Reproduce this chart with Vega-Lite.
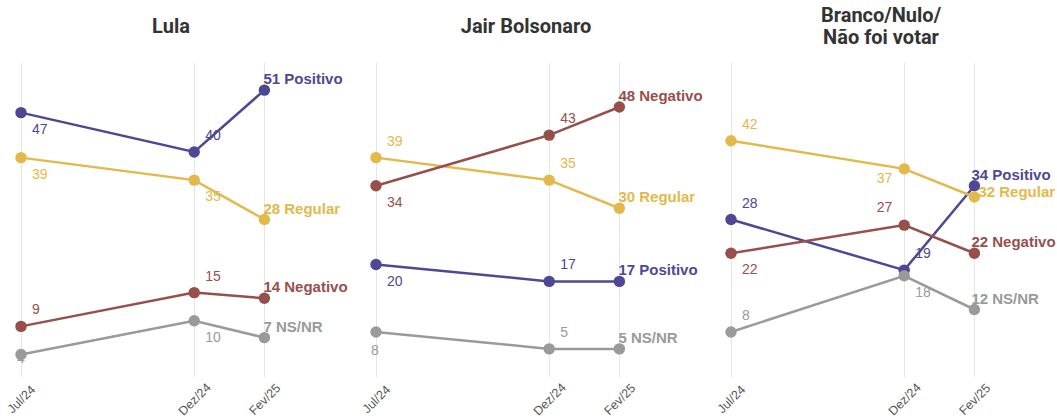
{
  "$schema": "https://vega.github.io/schema/vega-lite/v6.json",
  "background": "white",
  "padding": {"left": 4, "top": 6, "right": 0, "bottom": 0},
  "datasets": {"pesquisa": [
    {"painel": "Lula", "serie": "Positivo", "data": "2024-07-01", "valor": 47, "pos": "S"},
    {"painel": "Lula", "serie": "Positivo", "data": "2024-12-01", "valor": 40, "pos": "N"},
    {"painel": "Lula", "serie": "Positivo", "data": "2025-02-01", "valor": 51, "pos": "E"},
    {"painel": "Lula", "serie": "Regular", "data": "2024-07-01", "valor": 39, "pos": "S"},
    {"painel": "Lula", "serie": "Regular", "data": "2024-12-01", "valor": 35, "pos": "S"},
    {"painel": "Lula", "serie": "Regular", "data": "2025-02-01", "valor": 28, "pos": "E"},
    {"painel": "Lula", "serie": "Negativo", "data": "2024-07-01", "valor": 9, "pos": "N"},
    {"painel": "Lula", "serie": "Negativo", "data": "2024-12-01", "valor": 15, "pos": "N"},
    {"painel": "Lula", "serie": "Negativo", "data": "2025-02-01", "valor": 14, "pos": "E"},
    {"painel": "Lula", "serie": "NS/NR", "data": "2024-07-01", "valor": 4, "pos": "C"},
    {"painel": "Lula", "serie": "NS/NR", "data": "2024-12-01", "valor": 10, "pos": "S"},
    {"painel": "Lula", "serie": "NS/NR", "data": "2025-02-01", "valor": 7, "pos": "E"},
    {"painel": "Jair Bolsonaro", "serie": "Positivo", "data": "2024-07-01", "valor": 20, "pos": "S"},
    {"painel": "Jair Bolsonaro", "serie": "Positivo", "data": "2024-12-01", "valor": 17, "pos": "N"},
    {"painel": "Jair Bolsonaro", "serie": "Positivo", "data": "2025-02-01", "valor": 17, "pos": "E"},
    {"painel": "Jair Bolsonaro", "serie": "Regular", "data": "2024-07-01", "valor": 39, "pos": "N"},
    {"painel": "Jair Bolsonaro", "serie": "Regular", "data": "2024-12-01", "valor": 35, "pos": "N"},
    {"painel": "Jair Bolsonaro", "serie": "Regular", "data": "2025-02-01", "valor": 30, "pos": "E"},
    {"painel": "Jair Bolsonaro", "serie": "Negativo", "data": "2024-07-01", "valor": 34, "pos": "S"},
    {"painel": "Jair Bolsonaro", "serie": "Negativo", "data": "2024-12-01", "valor": 43, "pos": "N"},
    {"painel": "Jair Bolsonaro", "serie": "Negativo", "data": "2025-02-01", "valor": 48, "pos": "E"},
    {"painel": "Jair Bolsonaro", "serie": "NS/NR", "data": "2024-07-01", "valor": 8, "pos": "Sc"},
    {"painel": "Jair Bolsonaro", "serie": "NS/NR", "data": "2024-12-01", "valor": 5, "pos": "N"},
    {"painel": "Jair Bolsonaro", "serie": "NS/NR", "data": "2025-02-01", "valor": 5, "pos": "E"},
    {"painel": "Branco/Nulo/Não foi votar", "serie": "Positivo", "data": "2024-07-01", "valor": 28, "pos": "N"},
    {"painel": "Branco/Nulo/Não foi votar", "serie": "Positivo", "data": "2024-12-01", "valor": 19, "pos": "N"},
    {"painel": "Branco/Nulo/Não foi votar", "serie": "Positivo", "data": "2025-02-01", "valor": 34, "pos": "E"},
    {"painel": "Branco/Nulo/Não foi votar", "serie": "Regular", "data": "2024-07-01", "valor": 42, "pos": "N"},
    {"painel": "Branco/Nulo/Não foi votar", "serie": "Regular", "data": "2024-12-01", "valor": 37, "pos": "SW"},
    {"painel": "Branco/Nulo/Não foi votar", "serie": "Regular", "data": "2025-02-01", "valor": 32, "pos": "E2"},
    {"painel": "Branco/Nulo/Não foi votar", "serie": "Negativo", "data": "2024-07-01", "valor": 22, "pos": "S"},
    {"painel": "Branco/Nulo/Não foi votar", "serie": "Negativo", "data": "2024-12-01", "valor": 27, "pos": "NW"},
    {"painel": "Branco/Nulo/Não foi votar", "serie": "Negativo", "data": "2025-02-01", "valor": 22, "pos": "E"},
    {"painel": "Branco/Nulo/Não foi votar", "serie": "NS/NR", "data": "2024-07-01", "valor": 8, "pos": "N"},
    {"painel": "Branco/Nulo/Não foi votar", "serie": "NS/NR", "data": "2024-12-01", "valor": 18, "pos": "S"},
    {"painel": "Branco/Nulo/Não foi votar", "serie": "NS/NR", "data": "2025-02-01", "valor": 12, "pos": "E"}
  ]},
  "spacing": 55,
  "bounds": "flush",
  "hconcat": [
    {
      "title": {"text": "Lula", "baseline": "middle", "offset": 15},
      "width": 300, "height": 315,
      "data": {"name": "pesquisa"},
      "transform": [{"filter": "datum.painel == 'Lula'"}, {"calculate": "datum.valor + ' ' + datum.serie", "as": "rotulo"}],
      "encoding": {
        "x": {"field": "data", "type": "temporal",
          "scale": {"type": "utc", "domain": [{"year": 2024, "month": 7, "date": 1, "utc": true}, {"year": 2025, "month": 3, "date": 23, "utc": true}]},
          "axis": {"title": null,
            "values": [{"year": 2024, "month": 7, "date": 1, "utc": true}, {"year": 2024, "month": 12, "date": 1, "utc": true}, {"year": 2025, "month": 2, "date": 1, "utc": true}],
            "labelExpr": "(utcmonth(datum.value) == 6 ? 'Jul' : utcmonth(datum.value) == 11 ? 'Dez' : 'Fev') + '/' + utcFormat(datum.value, '%y')"}},
        "y": {"field": "valor", "type": "quantitative", "scale": {"domain": [0, 56], "nice": false}, "axis": null},
        "color": {"field": "serie", "type": "nominal", "scale": {"domain": ["Positivo", "Regular", "Negativo", "NS/NR"], "range": ["#4e4894", "#e3b94b", "#974f4c", "#9a9a9a"]}, "legend": null}
      },
      "layer": [
        {"transform": [{"filter": "datum.pos == 'N'"}], "mark": {"type": "text", "align": "left", "dx": 11, "dy": -16}, "encoding": {"text": {"field": "valor"}}},
        {"transform": [{"filter": "datum.pos == 'S'"}], "mark": {"type": "text", "align": "left", "dx": 11, "dy": 17}, "encoding": {"text": {"field": "valor"}}},
        {"transform": [{"filter": "datum.pos == 'Sc'"}], "mark": {"type": "text", "align": "center", "dx": -1, "dy": 19}, "encoding": {"text": {"field": "valor"}}},
        {"transform": [{"filter": "datum.pos == 'C'"}], "mark": {"type": "text", "align": "center", "dx": 0, "dy": 4}, "encoding": {"text": {"field": "valor"}}},
        {"transform": [{"filter": "datum.pos == 'NW'"}], "mark": {"type": "text", "align": "right", "dx": -12, "dy": -17}, "encoding": {"text": {"field": "valor"}}},
        {"transform": [{"filter": "datum.pos == 'SW'"}], "mark": {"type": "text", "align": "right", "dx": -12, "dy": 10}, "encoding": {"text": {"field": "valor"}}},
        {"transform": [{"filter": "datum.pos == 'E'"}], "mark": {"type": "text", "align": "left", "dx": -1, "dy": -11, "fontWeight": "bold", "fontSize": 15}, "encoding": {"text": {"field": "rotulo"}}},
        {"transform": [{"filter": "datum.pos == 'E2'"}], "mark": {"type": "text", "align": "left", "dx": 4, "dy": -5, "fontWeight": "bold", "fontSize": 15}, "encoding": {"text": {"field": "rotulo"}}},
        {"mark": {"type": "line", "strokeWidth": 2.5}, "encoding": {"detail": {"field": "serie"}}},
        {"mark": {"type": "circle", "size": 130, "opacity": 1}}
      ]
    },
    {
      "title": {"text": "Jair Bolsonaro", "baseline": "middle", "offset": 15},
      "width": 300, "height": 315,
      "data": {"name": "pesquisa"},
      "transform": [{"filter": "datum.painel == 'Jair Bolsonaro'"}, {"calculate": "datum.valor + ' ' + datum.serie", "as": "rotulo"}],
      "encoding": {
        "x": {"field": "data", "type": "temporal",
          "scale": {"type": "utc", "domain": [{"year": 2024, "month": 7, "date": 1, "utc": true}, {"year": 2025, "month": 3, "date": 23, "utc": true}]},
          "axis": {"title": null,
            "values": [{"year": 2024, "month": 7, "date": 1, "utc": true}, {"year": 2024, "month": 12, "date": 1, "utc": true}, {"year": 2025, "month": 2, "date": 1, "utc": true}],
            "labelExpr": "(utcmonth(datum.value) == 6 ? 'Jul' : utcmonth(datum.value) == 11 ? 'Dez' : 'Fev') + '/' + utcFormat(datum.value, '%y')"}},
        "y": {"field": "valor", "type": "quantitative", "scale": {"domain": [0, 56], "nice": false}, "axis": null},
        "color": {"field": "serie", "type": "nominal", "scale": {"domain": ["Positivo", "Regular", "Negativo", "NS/NR"], "range": ["#4e4894", "#e3b94b", "#974f4c", "#9a9a9a"]}, "legend": null}
      },
      "layer": [
        {"transform": [{"filter": "datum.pos == 'N'"}], "mark": {"type": "text", "align": "left", "dx": 11, "dy": -16}, "encoding": {"text": {"field": "valor"}}},
        {"transform": [{"filter": "datum.pos == 'S'"}], "mark": {"type": "text", "align": "left", "dx": 11, "dy": 17}, "encoding": {"text": {"field": "valor"}}},
        {"transform": [{"filter": "datum.pos == 'Sc'"}], "mark": {"type": "text", "align": "center", "dx": -1, "dy": 19}, "encoding": {"text": {"field": "valor"}}},
        {"transform": [{"filter": "datum.pos == 'C'"}], "mark": {"type": "text", "align": "center", "dx": 0, "dy": 4}, "encoding": {"text": {"field": "valor"}}},
        {"transform": [{"filter": "datum.pos == 'NW'"}], "mark": {"type": "text", "align": "right", "dx": -12, "dy": -17}, "encoding": {"text": {"field": "valor"}}},
        {"transform": [{"filter": "datum.pos == 'SW'"}], "mark": {"type": "text", "align": "right", "dx": -12, "dy": 10}, "encoding": {"text": {"field": "valor"}}},
        {"transform": [{"filter": "datum.pos == 'E'"}], "mark": {"type": "text", "align": "left", "dx": -1, "dy": -11, "fontWeight": "bold", "fontSize": 15}, "encoding": {"text": {"field": "rotulo"}}},
        {"transform": [{"filter": "datum.pos == 'E2'"}], "mark": {"type": "text", "align": "left", "dx": 4, "dy": -5, "fontWeight": "bold", "fontSize": 15}, "encoding": {"text": {"field": "rotulo"}}},
        {"mark": {"type": "line", "strokeWidth": 2.5}, "encoding": {"detail": {"field": "serie"}}},
        {"mark": {"type": "circle", "size": 130, "opacity": 1}}
      ]
    },
    {
      "title": {"text": ["Branco/Nulo/", "Não foi votar"], "baseline": "middle", "offset": 4, "lineHeight": 22},
      "width": 300, "height": 315,
      "data": {"name": "pesquisa"},
      "transform": [{"filter": "datum.painel == 'Branco/Nulo/Não foi votar'"}, {"calculate": "datum.valor + ' ' + datum.serie", "as": "rotulo"}],
      "encoding": {
        "x": {"field": "data", "type": "temporal",
          "scale": {"type": "utc", "domain": [{"year": 2024, "month": 7, "date": 1, "utc": true}, {"year": 2025, "month": 3, "date": 23, "utc": true}]},
          "axis": {"title": null,
            "values": [{"year": 2024, "month": 7, "date": 1, "utc": true}, {"year": 2024, "month": 12, "date": 1, "utc": true}, {"year": 2025, "month": 2, "date": 1, "utc": true}],
            "labelExpr": "(utcmonth(datum.value) == 6 ? 'Jul' : utcmonth(datum.value) == 11 ? 'Dez' : 'Fev') + '/' + utcFormat(datum.value, '%y')"}},
        "y": {"field": "valor", "type": "quantitative", "scale": {"domain": [0, 56], "nice": false}, "axis": null},
        "color": {"field": "serie", "type": "nominal", "scale": {"domain": ["Positivo", "Regular", "Negativo", "NS/NR"], "range": ["#4e4894", "#e3b94b", "#974f4c", "#9a9a9a"]}, "legend": null}
      },
      "layer": [
        {"transform": [{"filter": "datum.pos == 'N'"}], "mark": {"type": "text", "align": "left", "dx": 11, "dy": -16}, "encoding": {"text": {"field": "valor"}}},
        {"transform": [{"filter": "datum.pos == 'S'"}], "mark": {"type": "text", "align": "left", "dx": 11, "dy": 17}, "encoding": {"text": {"field": "valor"}}},
        {"transform": [{"filter": "datum.pos == 'Sc'"}], "mark": {"type": "text", "align": "center", "dx": -1, "dy": 19}, "encoding": {"text": {"field": "valor"}}},
        {"transform": [{"filter": "datum.pos == 'C'"}], "mark": {"type": "text", "align": "center", "dx": 0, "dy": 4}, "encoding": {"text": {"field": "valor"}}},
        {"transform": [{"filter": "datum.pos == 'NW'"}], "mark": {"type": "text", "align": "right", "dx": -12, "dy": -17}, "encoding": {"text": {"field": "valor"}}},
        {"transform": [{"filter": "datum.pos == 'SW'"}], "mark": {"type": "text", "align": "right", "dx": -12, "dy": 10}, "encoding": {"text": {"field": "valor"}}},
        {"transform": [{"filter": "datum.pos == 'E'"}], "mark": {"type": "text", "align": "left", "dx": -3, "dy": -11, "fontWeight": "bold", "fontSize": 15}, "encoding": {"text": {"field": "rotulo"}}},
        {"transform": [{"filter": "datum.pos == 'E2'"}], "mark": {"type": "text", "align": "left", "dx": 4, "dy": -5, "fontWeight": "bold", "fontSize": 15}, "encoding": {"text": {"field": "rotulo"}}},
        {"mark": {"type": "line", "strokeWidth": 2.5}, "encoding": {"detail": {"field": "serie"}}},
        {"mark": {"type": "circle", "size": 130, "opacity": 1}}
      ]
    }
  ],
  "config": {
    "view": {"stroke": null},
    "title": {"font": "Roboto", "fontSize": 20, "fontWeight": "bold", "color": "#333333", "anchor": "middle", "frame": "group"},
    "text": {"font": "Liberation Sans", "fontSize": 14, "baseline": "middle"},
    "axisX": {
      "labelAngle": -45,
      "labelAlign": "center",
      "labelBaseline": "middle",
      "labelPadding": 22,
      "labelFont": "Liberation Sans",
      "labelFontSize": 12.5,
      "labelColor": "#555555",
      "domain": false,
      "ticks": false,
      "grid": true,
      "gridColor": "#e6e6e6",
      "gridWidth": 1
    }
  }
}
